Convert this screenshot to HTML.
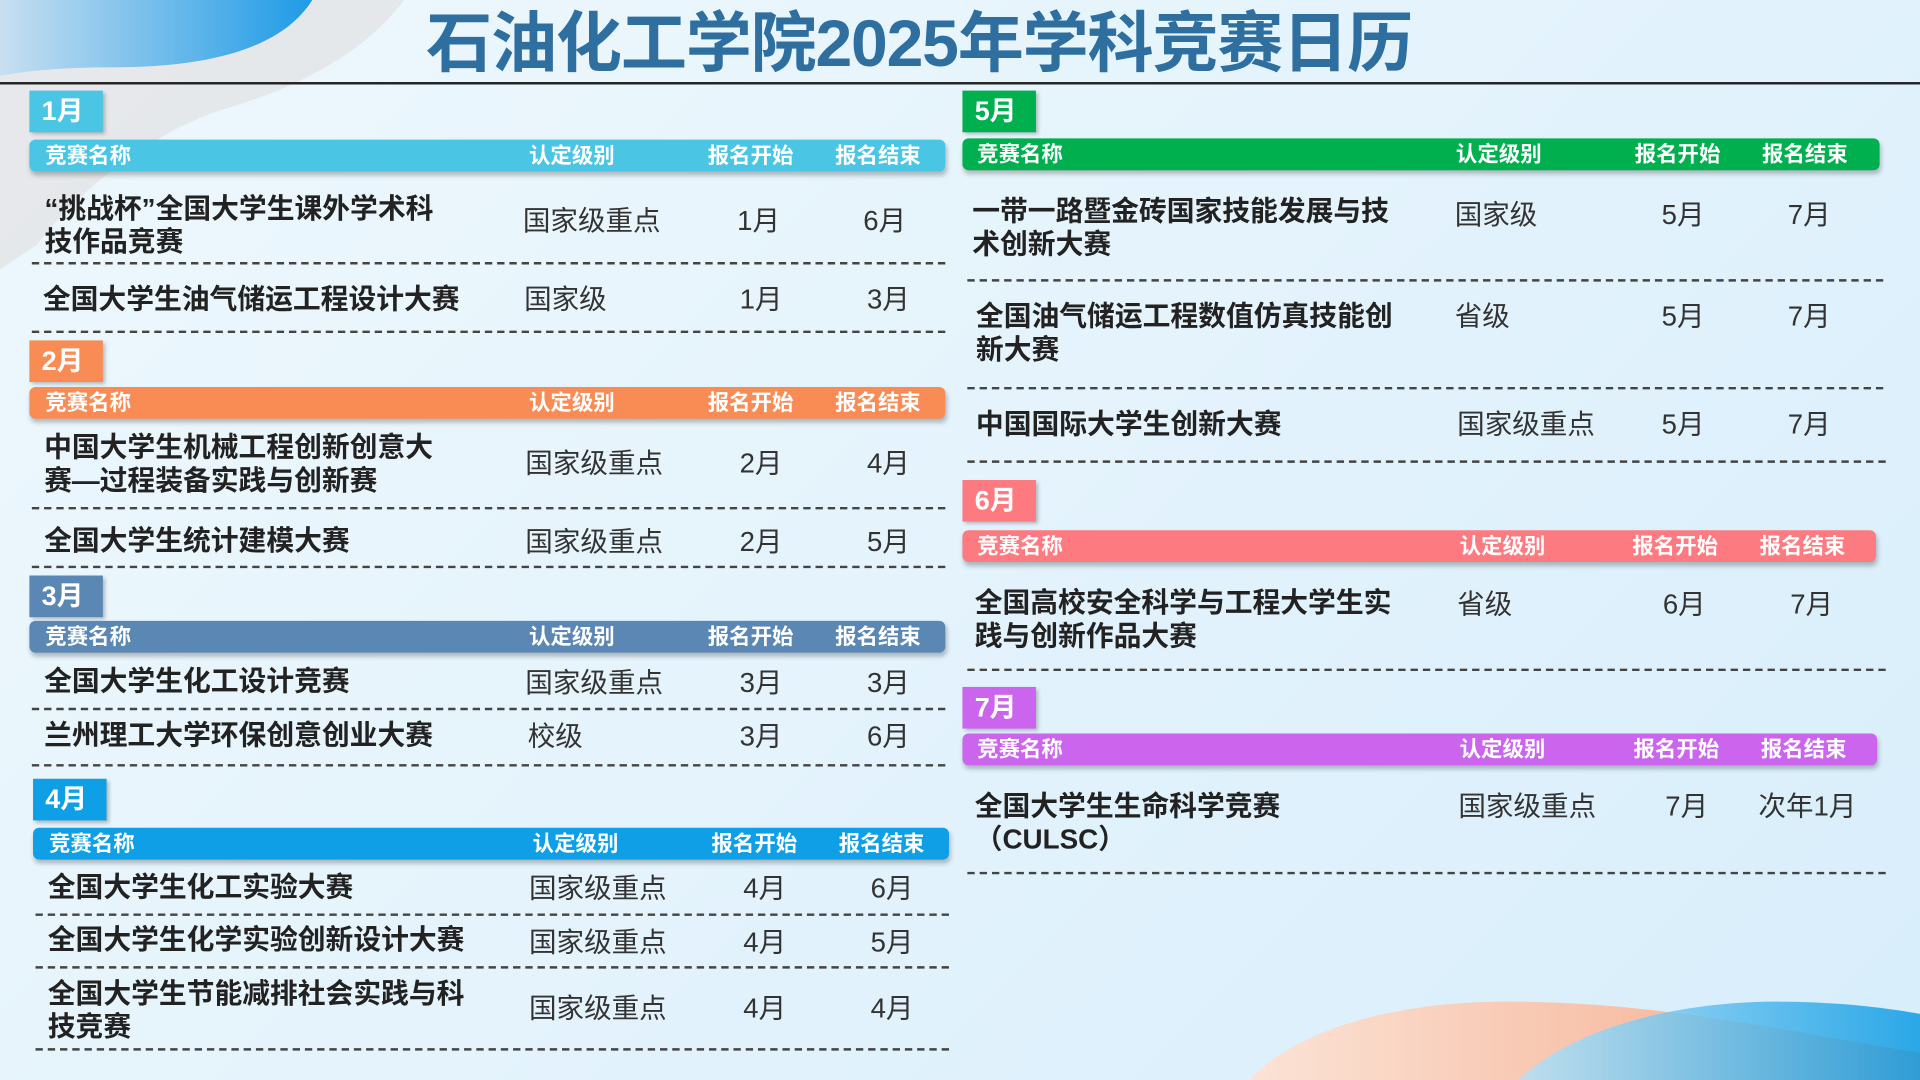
<!DOCTYPE html>
<html><head><meta charset="utf-8"><style>
*{margin:0;padding:0;box-sizing:border-box}
body{width:1920px;height:1080px;overflow:hidden;font-family:"Liberation Sans","Noto Sans CJK SC",sans-serif}
#s{position:absolute;left:0;top:0;width:1568px;height:882px;transform:scale(1.22449);transform-origin:0 0;background:linear-gradient(135deg,#eef8fd 0%,#e4f3fc 50%,#d8eefb 100%);overflow:hidden}
.a{position:absolute;white-space:nowrap}
.tab{position:absolute;width:60px;height:34px;color:#fff;font-weight:bold;font-size:22px;line-height:34px;padding-left:10px;box-shadow:2px 2px 3px rgba(0,0,0,.25)}
.hd{position:absolute;height:26px;border-radius:5px;color:#fff;font-weight:bold;font-size:17.5px;line-height:26px;box-shadow:1px 3px 4px rgba(0,0,0,.25)}
.hd span{position:absolute}
.n{position:absolute;font-weight:bold;font-size:22.7px;color:#222;line-height:27px;white-space:nowrap}
.v{position:absolute;font-size:22.5px;color:#333;line-height:27px;white-space:nowrap}
.d{position:absolute;height:0;border-top:2px dashed #444}
</style></head><body><div id="s">
<svg class="a" style="left:0;top:0" width="1568" height="882">
<defs><linearGradient id="g1" x1="0" x2="1"><stop offset="0" stop-color="#c8dff0"/><stop offset="1" stop-color="#1e9be6"/></linearGradient>
<linearGradient id="g2" x1="0" x2="1"><stop offset="0" stop-color="#fbe3d6"/><stop offset="1" stop-color="#f5a583"/></linearGradient>
<linearGradient id="g3" x1="0" x2="1"><stop offset="0" stop-color="#b5e2f8"/><stop offset="1" stop-color="#0c9be3"/></linearGradient></defs>
<path d="M0 0 L330 0 C300 40 250 70 180 90 C120 110 60 160 30 200 L0 220 Z" fill="#e4e4e6" opacity=".8"/>
<path d="M0 0 L255 0 C230 40 170 55 90 55 C50 55 20 58 0 62 Z" fill="url(#g1)"/>
<path d="M1020 882 C1060 840 1140 818 1230 818 C1350 818 1450 840 1568 860 L1568 882 Z" fill="url(#g2)"/>
<path d="M1240 882 C1290 835 1380 818 1450 818 C1500 818 1540 823 1568 828 L1568 882 Z" fill="url(#g3)" opacity=".85"/>
</svg>
<div class="a" style="left:348px;top:4px;font-size:54px;font-weight:bold;color:#2f6f9f;line-height:64px;letter-spacing:-1px">石油化工学院2025年学科竞赛日历</div>
<div class="a" style="left:0;top:67px;width:1568px;height:2px;background:#222"></div>

<!-- 1月 -->
<div class="tab" style="left:24px;top:74px;background:#4ac5e3">1月</div>
<div class="hd" style="left:24px;top:114px;width:748px;background:#4ac5e3"><span style="left:13px">竞赛名称</span><span style="left:408px">认定级别</span><span style="left:554px">报名开始</span><span style="left:658px">报名结束</span></div>
<div class="n" style="left:30px;top:157px">&nbsp;“挑战杯”全国大学生课外学术科<br>&nbsp;技作品竞赛</div>
<div class="v" style="left:427px;top:167px">国家级重点</div><div class="v" style="left:602px;top:167px">1月</div><div class="v" style="left:705px;top:167px">6月</div>
<div class="d" style="left:26px;top:214px;width:746px"></div>
<div class="n" style="left:35px;top:231px">全国大学生油气储运工程设计大赛</div>
<div class="v" style="left:428px;top:231px">国家级</div><div class="v" style="left:604px;top:231px">1月</div><div class="v" style="left:708px;top:231px">3月</div>
<div class="d" style="left:26px;top:270px;width:746px"></div>

<!-- 2月 -->
<div class="tab" style="left:24px;top:278px;background:#f98c55">2月</div>
<div class="hd" style="left:24px;top:316px;width:748px;background:#f98c55"><span style="left:13px">竞赛名称</span><span style="left:408px">认定级别</span><span style="left:554px">报名开始</span><span style="left:658px">报名结束</span></div>
<div class="n" style="left:36px;top:352px">中国大学生机械工程创新创意大<br>赛—过程装备实践与创新赛</div>
<div class="v" style="left:429px;top:365px">国家级重点</div><div class="v" style="left:604px;top:365px">2月</div><div class="v" style="left:708px;top:365px">4月</div>
<div class="d" style="left:26px;top:414px;width:746px"></div>
<div class="n" style="left:36px;top:428px">全国大学生统计建模大赛</div>
<div class="v" style="left:429px;top:429px">国家级重点</div><div class="v" style="left:604px;top:429px">2月</div><div class="v" style="left:708px;top:429px">5月</div>
<div class="d" style="left:26px;top:462px;width:746px"></div>

<!-- 3月 -->
<div class="tab" style="left:24px;top:470px;background:#5a87b4">3月</div>
<div class="hd" style="left:24px;top:507px;width:748px;background:#5a87b4"><span style="left:13px">竞赛名称</span><span style="left:408px">认定级别</span><span style="left:554px">报名开始</span><span style="left:658px">报名结束</span></div>
<div class="n" style="left:36px;top:543px">全国大学生化工设计竞赛</div>
<div class="v" style="left:429px;top:544px">国家级重点</div><div class="v" style="left:604px;top:544px">3月</div><div class="v" style="left:708px;top:544px">3月</div>
<div class="d" style="left:26px;top:578px;width:746px"></div>
<div class="n" style="left:36px;top:587px">兰州理工大学环保创意创业大赛</div>
<div class="v" style="left:431px;top:588px">校级</div><div class="v" style="left:604px;top:588px">3月</div><div class="v" style="left:708px;top:588px">6月</div>
<div class="d" style="left:26px;top:624px;width:746px"></div>

<!-- 4月 -->
<div class="tab" style="left:27px;top:636px;background:#0e9fe6">4月</div>
<div class="hd" style="left:27px;top:676px;width:748px;background:#0e9fe6"><span style="left:13px">竞赛名称</span><span style="left:408px">认定级别</span><span style="left:554px">报名开始</span><span style="left:658px">报名结束</span></div>
<div class="n" style="left:39px;top:711px">全国大学生化工实验大赛</div>
<div class="v" style="left:432px;top:712px">国家级重点</div><div class="v" style="left:607px;top:712px">4月</div><div class="v" style="left:711px;top:712px">6月</div>
<div class="d" style="left:29px;top:746px;width:746px"></div>
<div class="n" style="left:39px;top:754px">全国大学生化学实验创新设计大赛</div>
<div class="v" style="left:432px;top:756px">国家级重点</div><div class="v" style="left:607px;top:756px">4月</div><div class="v" style="left:711px;top:756px">5月</div>
<div class="d" style="left:29px;top:789px;width:746px"></div>
<div class="n" style="left:39px;top:798px">全国大学生节能减排社会实践与科<br>技竞赛</div>
<div class="v" style="left:432px;top:810px">国家级重点</div><div class="v" style="left:607px;top:810px">4月</div><div class="v" style="left:711px;top:810px">4月</div>
<div class="d" style="left:29px;top:856px;width:746px"></div>

<!-- 5月 -->
<div class="tab" style="left:786px;top:74px;background:#00b04f">5月</div>
<div class="hd" style="left:786px;top:113px;width:749px;background:#00b04f"><span style="left:12px">竞赛名称</span><span style="left:403px">认定级别</span><span style="left:549px">报名开始</span><span style="left:653px">报名结束</span></div>
<div class="n" style="left:794px;top:159px">一带一路暨金砖国家技能发展与技<br>术创新大赛</div>
<div class="v" style="left:1188px;top:162px">国家级</div><div class="v" style="left:1357px;top:162px">5月</div><div class="v" style="left:1460px;top:162px">7月</div>
<div class="d" style="left:790px;top:228px;width:748px"></div>
<div class="n" style="left:797px;top:245px">全国油气储运工程数值仿真技能创<br>新大赛</div>
<div class="v" style="left:1188px;top:245px">省级</div><div class="v" style="left:1357px;top:245px">5月</div><div class="v" style="left:1460px;top:245px">7月</div>
<div class="d" style="left:790px;top:316px;width:748px"></div>
<div class="n" style="left:797px;top:333px">中国国际大学生创新大赛</div>
<div class="v" style="left:1190px;top:333px">国家级重点</div><div class="v" style="left:1357px;top:333px">5月</div><div class="v" style="left:1460px;top:333px">7月</div>
<div class="d" style="left:790px;top:376px;width:750px"></div>

<!-- 6月 -->
<div class="tab" style="left:786px;top:392px;background:#fd7b80">6月</div>
<div class="hd" style="left:786px;top:433px;width:746px;background:#fd7b80"><span style="left:12px">竞赛名称</span><span style="left:406px">认定级别</span><span style="left:547px">报名开始</span><span style="left:651px">报名结束</span></div>
<div class="n" style="left:796px;top:479px">全国高校安全科学与工程大学生实<br>践与创新作品大赛</div>
<div class="v" style="left:1190px;top:480px">省级</div><div class="v" style="left:1358px;top:480px">6月</div><div class="v" style="left:1462px;top:480px">7月</div>
<div class="d" style="left:790px;top:546px;width:750px"></div>

<!-- 7月 -->
<div class="tab" style="left:786px;top:561px;background:#cb65ee">7月</div>
<div class="hd" style="left:786px;top:599px;width:747px;background:#cb65ee"><span style="left:12px">竞赛名称</span><span style="left:406px">认定级别</span><span style="left:548px">报名开始</span><span style="left:652px">报名结束</span></div>
<div class="n" style="left:796px;top:645px">全国大学生生命科学竞赛<br>（CULSC）</div>
<div class="v" style="left:1191px;top:645px">国家级重点</div><div class="v" style="left:1360px;top:645px">7月</div><div class="v" style="left:1436px;top:645px">次年1月</div>
<div class="d" style="left:790px;top:712px;width:750px"></div>
</div></body></html>
